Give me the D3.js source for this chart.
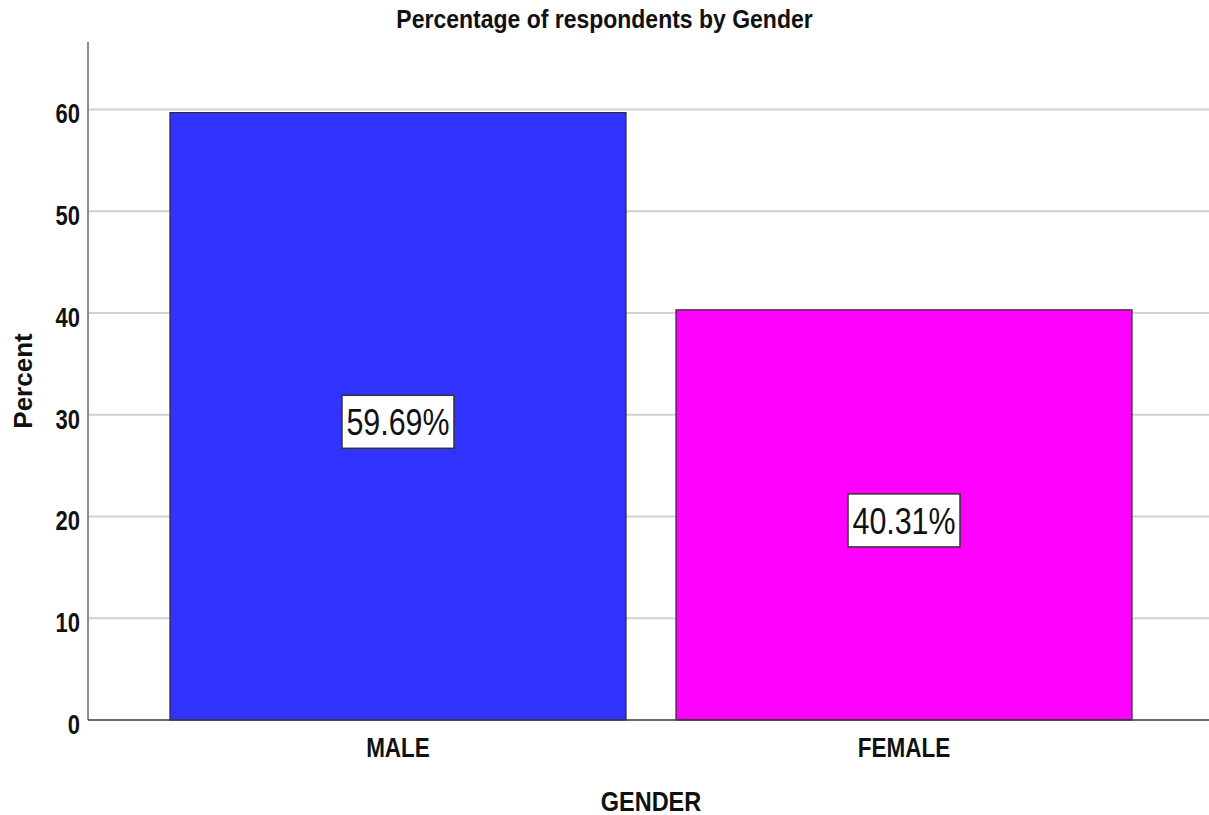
<!DOCTYPE html>
<html>
<head>
<meta charset="utf-8">
<script src="https://cdn.jsdelivr.net/npm/d3@7"></script>
<style>
  html, body { margin: 0; padding: 0; background: #fff; }
  svg { display: block; font-family: "Liberation Sans", Arial, sans-serif; }
</style>
</head>
<body>
<svg id="chart" width="1209" height="815"></svg>
<script>
// Gender breakdown of survey respondents (percent)
const categories = ["MALE", "FEMALE"];
const percents = [59.69, 40.31];
const barColors = ["#3333FF", "#FF00FF"];
const yTicks = [0, 10, 20, 30, 40, 50, 60];
const titleText = "Percentage of respondents by Gender";
const xTitle = "GENDER";
const yTitle = "Percent";

const W = 1209, H = 815;
const svg = d3.select("#chart");

const plot = { left: 88, right: 1214, top: 42, bottom: 720 };

const x = d3.scaleBand()
  .domain(categories)
  .range([plot.left, plot.right])
  .paddingInner(0.0988)
  .paddingOuter(0.162);

const y = d3.scaleLinear()
  .domain([0, 66.63])
  .range([plot.bottom, plot.top]);

// horizontal gridlines
svg.append("g")
  .selectAll("line")
  .data(yTicks.filter(d => d > 0))
  .join("line")
  .attr("x1", plot.left)
  .attr("x2", W)
  .attr("y1", d => y(d))
  .attr("y2", d => y(d))
  .attr("stroke", "#d2d2d2")
  .attr("stroke-width", 2);

// y axis line
svg.append("line")
  .attr("x1", plot.left).attr("x2", plot.left)
  .attr("y1", plot.top).attr("y2", plot.bottom)
  .attr("stroke", "#8c8c8c")
  .attr("stroke-width", 2);

// tick labels (text is drawn slightly taller than wide)
svg.append("g")
  .selectAll("text")
  .data(yTicks)
  .join("text")
  .attr("transform", d => `translate(80,${y(d) + 14}) scale(1,1.22)`)
  .attr("text-anchor", "end")
  .attr("font-size", 22)
  .attr("font-weight", "bold")
  .attr("fill", "#111")
  .text(d => d);

// bars
svg.append("g")
  .selectAll("rect")
  .data(categories)
  .join("rect")
  .attr("x", d => x(d))
  .attr("width", x.bandwidth())
  .attr("y", (d, i) => y(percents[i]))
  .attr("height", (d, i) => y(0) - y(percents[i]))
  .attr("fill", (d, i) => barColors[i])
  .attr("stroke", "#2b2b2b")
  .attr("stroke-width", 1.2);

// baseline
svg.append("line")
  .attr("x1", plot.left).attr("x2", W)
  .attr("y1", y(0)).attr("y2", y(0))
  .attr("stroke", "#3a3a3a")
  .attr("stroke-width", 1.5);

// value labels in boxes at bar mid-height
const lab = svg.append("g")
  .selectAll("g")
  .data(categories)
  .join("g")
  .attr("transform", (d, i) => `translate(${x(d) + x.bandwidth() / 2},${y(percents[i] / 2)})`);

lab.append("rect")
  .attr("x", -56)
  .attr("y", -21)
  .attr("width", 112)
  .attr("height", 53)
  .attr("fill", "#fff")
  .attr("stroke", "#333")
  .attr("stroke-width", 1.5);

lab.append("text")
  .attr("transform", "translate(0,19) scale(1,1.22)")
  .attr("text-anchor", "middle")
  .attr("font-size", 30.4)
  .attr("fill", "#111")
  .text((d, i) => d3.format(".2f")(percents[i]) + "%");

// category labels
svg.append("g")
  .selectAll("text")
  .data(categories)
  .join("text")
  .attr("transform", d => `translate(${x(d) + x.bandwidth() / 2},757) scale(1,1.2)`)
  .attr("text-anchor", "middle")
  .attr("font-size", 22.5)
  .attr("font-weight", "bold")
  .attr("fill", "#111")
  .text(d => d);

// axis titles
svg.append("text")
  .attr("transform", `translate(${(plot.left + plot.right) / 2},811) scale(1,1.2)`)
  .attr("text-anchor", "middle")
  .attr("font-size", 23.5)
  .attr("font-weight", "bold")
  .attr("fill", "#111")
  .text(xTitle);

svg.append("text")
  .attr("transform", "translate(32,381) rotate(-90)")
  .attr("text-anchor", "middle")
  .attr("font-size", 26)
  .attr("font-weight", "bold")
  .attr("fill", "#111")
  .text(yTitle);

// chart title
svg.append("text")
  .attr("transform", `translate(${W / 2},28) scale(1,1.1)`)
  .attr("text-anchor", "middle")
  .attr("font-size", 23)
  .attr("font-weight", "bold")
  .attr("fill", "#111")
  .text(titleText);
</script>
</body>
</html>
